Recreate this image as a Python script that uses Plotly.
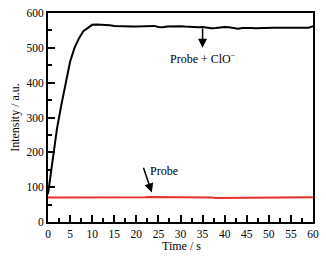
import plotly.graph_objects as go

time_s = list(range(0, 61))
probe_clo = [80, 170, 265, 335, 400, 460, 500, 527, 548, 558, 566, 567, 567, 566, 565, 563, 562, 562, 561, 561,
             561, 562, 561, 562, 563, 560, 559, 561, 562, 561, 562, 561, 560, 559, 559, 560, 558, 556, 557, 559,
             560, 559, 556, 555, 557, 558, 557, 556, 557, 557, 558, 558, 558, 558, 558, 557, 557, 556, 556, 558, 562]
probe = [70, 70, 71, 70, 70, 69, 70, 71, 71, 70, 70, 71, 70, 70, 71, 70, 69, 70, 71, 71,
         71, 71, 71, 72, 72, 72, 71, 71, 70, 70, 70, 70, 70, 70, 70, 70, 70, 70, 69, 69,
         70, 69, 69, 69, 69, 69, 69, 69, 69, 69, 71, 71, 71, 70, 70, 70, 70, 71, 71, 70, 71]

font = "Liberation Serif, Times New Roman, serif"
fig = go.Figure()
fig.add_trace(go.Scatter(x=time_s, y=probe_clo, mode="lines", line=dict(color="black", width=2)))
fig.add_trace(go.Scatter(x=time_s, y=probe, mode="lines", line=dict(color="#e8302a", width=2)))

axis_common = dict(showline=True, linecolor="black", linewidth=2, mirror=True, ticks="inside",
                   tickcolor="black", tickwidth=1.5, ticklen=7, showgrid=False, zeroline=False,
                   automargin=False, tickfont=dict(family=font, size=11.5, color="black"))
fig.update_xaxes(range=[0, 60], dtick=5, tick0=0,
                 minor=dict(dtick=2.5, ticks="inside", ticklen=4, tickcolor="black", tickwidth=1.5, showgrid=False),
                 **axis_common)
fig.update_yaxes(range=[0, 600], dtick=100, tick0=0,
                 minor=dict(dtick=50, ticks="inside", ticklen=4, tickcolor="black", tickwidth=1.5, showgrid=False),
                 title=dict(text="Intensity / a.u.", font=dict(family=font, size=12, color="black"), standoff=4),
                 **axis_common)

fig.add_annotation(x=0.505, y=-0.115, xref="paper", yref="paper", text="Time / s", showarrow=False,
                   yanchor="middle", font=dict(family=font, size=12, color="black"))
fig.add_annotation(x=35, y=500, ax=35, ay=560, xref="x", yref="y", axref="x", ayref="y",
                   text="", showarrow=True, arrowhead=2, arrowsize=1.2, arrowwidth=1.5, arrowcolor="black")
fig.add_annotation(x=35, y=468, text="Probe + ClO<sup>−</sup>", showarrow=False,
                   font=dict(family=font, size=12, color="black"))
fig.add_annotation(x=23.5, y=85, ax=21.5, ay=160, xref="x", yref="y", axref="x", ayref="y",
                   text="", showarrow=True, arrowhead=2, arrowsize=1.2, arrowwidth=1.5, arrowcolor="black")
fig.add_annotation(x=26.3, y=145, text="Probe", showarrow=False,
                   font=dict(family=font, size=12, color="black"))

fig.update_layout(width=326, height=256, margin=dict(l=48, r=13, t=13, b=34),
                  paper_bgcolor="white", plot_bgcolor="white", showlegend=False)
fig.write_html("out.html", config={"displayModeBar": False},
               post_script="document.body.style.margin='0';")
